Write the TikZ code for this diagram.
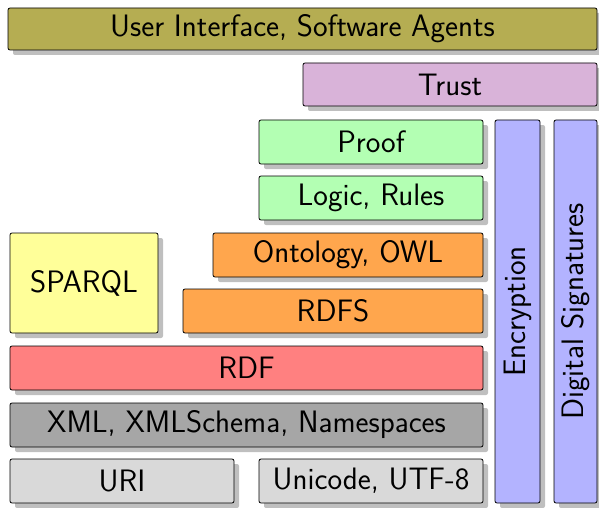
\documentclass[tikz,border=0pt]{standalone}
\usepackage{tikz}
\usetikzlibrary{shadows}
\definecolor{layerOlive}{HTML}{B5AD52}
\definecolor{layerTrust}{HTML}{D9B3D9}
\definecolor{layerGreen}{HTML}{B3FFB3}
\definecolor{layerOrange}{HTML}{FFA64D}
\definecolor{layerYellow}{HTML}{FFFF99}
\definecolor{layerRed}{HTML}{FF8080}
\definecolor{layerGray}{HTML}{A6A6A6}
\definecolor{layerLight}{HTML}{D9D9D9}
\definecolor{layerBlue}{HTML}{B3B3FF}

\begin{document}
\begin{tikzpicture}[x=1pt, y=-1pt,
    layer/.style={draw, line width=0.8pt, rounded corners=2pt, inner sep=0pt,
      font=\sffamily\fontsize{31}{37}\selectfont,
      drop shadow={shadow xshift=5pt, shadow yshift=-5pt}}]
  \useasboundingbox (0,0) rectangle (599,508);
  % top
  \node[layer, fill=layerOlive, minimum width=589pt, minimum height=42pt] (ui) at (302.5,29) {User Interface, Software Agents};
  \node[layer, fill=layerTrust, minimum width=294pt, minimum height=43pt] (trust) at (450,84.5) {Trust};
  \node[layer, fill=layerGreen, minimum width=224pt, minimum height=44pt] (proof) at (371,142) {Proof};
  \node[layer, fill=layerGreen, minimum width=224pt, minimum height=44pt] (logic) at (371,198) {Logic, Rules};
  % middle
  \node[layer, fill=layerOrange, minimum width=270pt, minimum height=44pt] (onto) at (348,255) {Ontology, OWL};
  \node[layer, fill=layerOrange, minimum width=300pt, minimum height=44pt] (rdfs) at (333,311) {RDFS};
  \node[layer, fill=layerYellow, minimum width=148pt, minimum height=100pt] (sparql) at (84,283) {SPARQL};
  \node[layer, fill=layerRed, minimum width=473pt, minimum height=44pt] (rdf) at (246.5,368) {RDF};
  % bottom
  \node[layer, fill=layerGray, minimum width=473pt, minimum height=44pt] (xml) at (246.5,425) {XML, XMLSchema, Namespaces};
  \node[layer, fill=layerLight, minimum width=224pt, minimum height=44pt] (uri) at (122,481) {URI};
  \node[layer, fill=layerLight, minimum width=224pt, minimum height=44pt] (unicode) at (371,481) {Unicode, UTF-8};
  % side columns
  \node[layer, fill=layerBlue, rotate=90, minimum width=383pt, minimum height=45pt] (enc) at (517.5,311.5) {Encryption};
  \node[layer, fill=layerBlue, rotate=90, minimum width=383pt, minimum height=43pt] (sig) at (575.5,311.5) {Digital Signatures};
\end{tikzpicture}
\end{document}
